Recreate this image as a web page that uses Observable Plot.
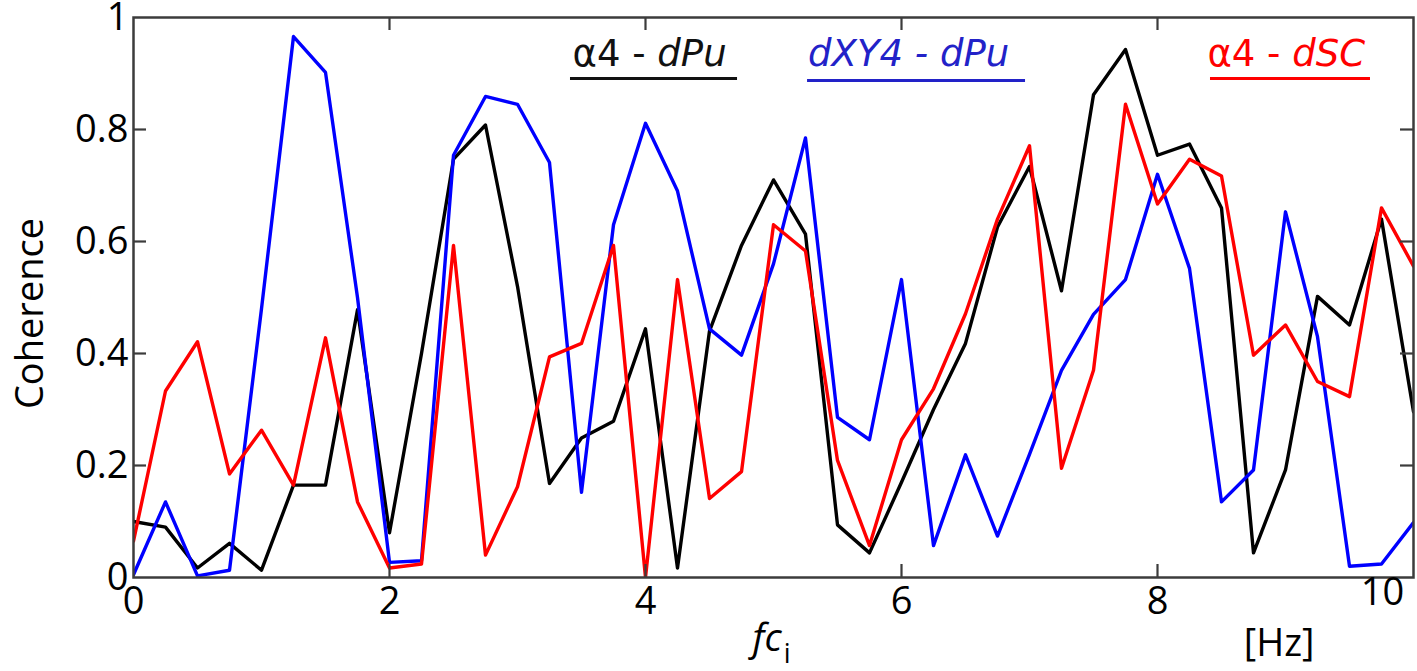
<!DOCTYPE html>
<html>
<head>
<meta charset="utf-8">
<script src="https://cdn.jsdelivr.net/npm/d3@7"></script>
<script src="https://cdn.jsdelivr.net/npm/@observablehq/plot@0.6"></script>
<style>
  html, body { margin: 0; padding: 0; background: #ffffff; }
  #chart svg { display: block; }
</style>
</head>
<body>
<div id="chart"></div>
<script>
// frequency grid [Hz]
const freq = [0, 0.25, 0.5, 0.75, 1, 1.25, 1.5, 1.75, 2, 2.25, 2.5, 2.75, 3, 3.25, 3.5, 3.75,
  4, 4.25, 4.5, 4.75, 5, 5.25, 5.5, 5.75, 6, 6.25, 6.5, 6.75, 7, 7.25, 7.5, 7.75,
  8, 8.25, 8.5, 8.75, 9, 9.25, 9.5, 9.75, 10];

// coherence: alpha4 - dPu (black)
const alpha4_dPu = [0.10, 0.09, 0.017, 0.061, 0.013, 0.165, 0.165, 0.478, 0.08, 0.40, 0.747,
  0.808, 0.52, 0.168, 0.249, 0.279, 0.444, 0.017, 0.44, 0.593, 0.71, 0.613, 0.094, 0.044,
  0.17, 0.30, 0.418, 0.626, 0.734, 0.512, 0.862, 0.943, 0.754, 0.774, 0.66, 0.044, 0.192,
  0.502, 0.451, 0.64, 0.296];

// coherence: dXY4 - dPu (blue)
const dXY4_dPu = [0.005, 0.135, 0.003, 0.013, 0.48, 0.966, 0.902, 0.50, 0.027, 0.03, 0.754,
  0.859, 0.845, 0.741, 0.152, 0.63, 0.811, 0.69, 0.444, 0.397, 0.56, 0.785, 0.286, 0.246,
  0.532, 0.057, 0.219, 0.074, 0.22, 0.37, 0.47, 0.532, 0.72, 0.552, 0.135, 0.192, 0.653,
  0.43, 0.02, 0.024, 0.098];

// coherence: alpha4 - dSC (red)
const alpha4_dSC = [0.065, 0.333, 0.421, 0.185, 0.263, 0.165, 0.428, 0.135, 0.017, 0.024, 0.593,
  0.04, 0.162, 0.394, 0.418, 0.593, 0.0, 0.532, 0.141, 0.189, 0.63, 0.583, 0.209, 0.057,
  0.246, 0.337, 0.471, 0.64, 0.771, 0.195, 0.37, 0.845, 0.667, 0.747, 0.717, 0.397, 0.451,
  0.35, 0.323, 0.66, 0.556];

const seriesNames = ["α4 - dPu", "dXY4 - dPu", "α4 - dSC"];
const seriesColors = ["#000000", "#0000ff", "#ff0000"];
const legendTextColors = ["#111111", "#2222c8", "#ff0000"];
const legendUpright = ["α4 - ", "", "α4 - "];
const legendItalic = ["dPu", "dXY4 - dPu", "dSC"];

const xTickValues = [0, 2, 4, 6, 8];
const xEdgeLabel = ["10"];
const xInnerTicks = [2, 4, 6, 8];
const yTickValues = [0, 0.2, 0.4, 0.6, 0.8, 1];
const yTickLabels = ["0", "0.2", "0.4", "0.6", "0.8", "1"];
const yInnerTicks = [0.2, 0.4, 0.6, 0.8];

const rows = [];
[alpha4_dPu, dXY4_dPu, alpha4_dSC].forEach((vals, i) => {
  vals.forEach((v, j) => rows.push({series: seriesNames[i], f: freq[j], c: v}));
});

// legend anchors (data coordinates)
const legend = seriesNames.map((name, i) => ({
  label: legendUpright[i] + legendItalic[i],
  color: legendTextColors[i],
  x: [3.43, 5.27, 8.39][i],
  x2: [4.719, 6.969, 9.664][i],
  x1: [3.414, 5.266, 8.414][i],
  y: 0.914,
  yu: [0.891, 0.8875, 0.891][i]
}));

const FONT = "Open Sans";
const LEGEND_FONT = "DejaVu Sans";
const frameColor = "#3c3c3c";
const W = 1417, H = 671, ML = 133, MR = 4, MT = 17, MB = 94;
const innerW = W - ML - MR, innerH = H - MT - MB, TICK = 13;
const xMax = 10, yMax = 1;

const plot = Plot.plot({
  width: W,
  height: H,
  marginLeft: ML,
  marginRight: MR,
  marginTop: MT,
  marginBottom: MB,
  style: {fontFamily: FONT, fontSize: "38px", background: "#ffffff", color: "#000"},
  x: {domain: [0, xMax]},
  y: {domain: [0, yMax]},
  color: {domain: seriesNames, range: seriesColors},
  marks: [
    Plot.line(rows, {x: "f", y: "c", z: "series", stroke: "series", strokeWidth: 3.4, strokeLinejoin: "round", clip: true}),
    Plot.frame({stroke: frameColor, strokeWidth: 2.5}),
    // inward ticks on all four sides
    Plot.tickX(xInnerTicks, {x: d => d, insetTop: innerH - TICK, stroke: frameColor, strokeWidth: 2.2}),
    Plot.tickX(xInnerTicks, {x: d => d, insetBottom: innerH - TICK, stroke: frameColor, strokeWidth: 2.2}),
    Plot.tickY(yInnerTicks, {y: d => d, insetRight: innerW - TICK, stroke: frameColor, strokeWidth: 2.2}),
    Plot.tickY(yInnerTicks, {y: d => d, insetLeft: innerW - TICK, stroke: frameColor, strokeWidth: 2.2}),
    // tick labels
    Plot.axisX({ticks: xTickValues, tickSize: 0, tickPadding: 10, label: null, fontSize: 38, fill: "#000"}),
    Plot.text(xEdgeLabel, {x: d => +d, text: d => d, frameAnchor: "bottom", lineAnchor: "top", dy: 1, dx: -31, fontSize: 38, fill: "#000"}),
    Plot.axisY({ticks: yTickValues, tickSize: 0, tickPadding: 5, label: null, fontSize: 38, fill: "#000",
      tickFormat: d => yTickLabels[yTickValues.indexOf(d)]}),
    // axis titles
    Plot.text(["Coherence"], {frameAnchor: "left", rotate: -90, dx: -103, dy: 16, fontSize: 38, fill: "#000", textAnchor: "middle", lineAnchor: "middle"}),
    Plot.text(["fc"], {x: 4.95, frameAnchor: "bottom", lineAnchor: "bottom", dy: 73, fontSize: 38, fontStyle: "italic", fill: "#000", textAnchor: "middle"}),
    Plot.text(["i"], {x: 5.08, frameAnchor: "bottom", lineAnchor: "bottom", dy: 85, fontSize: 27, fill: "#000", textAnchor: "start"}),
    Plot.text(["[Hz]"], {x: 8.95, frameAnchor: "bottom", lineAnchor: "bottom", dy: 78, fontSize: 38, fill: "#000", textAnchor: "middle"}),
    // legend
    Plot.text(legend, {x: "x", y: "y", text: "label", fill: "color", textAnchor: "start", lineAnchor: "bottom", fontSize: 37, fontFamily: LEGEND_FONT}),
    Plot.ruleY(legend, {y: "yu", x1: "x1", x2: "x2", stroke: "color", strokeWidth: 3})
  ]
});

// mixed upright/italic legend labels
d3.select(plot).selectAll("text").each(function() {
  const t = this.textContent;
  const i = legend.findIndex(l => l.label === t);
  if (i < 0) return;
  const sel = d3.select(this);
  sel.text(null);
  if (legendUpright[i]) sel.append("tspan").style("white-space", "pre").text(legendUpright[i]);
  sel.append("tspan").attr("font-style", "italic").text(legendItalic[i]);
});

document.getElementById("chart").appendChild(plot);
</script>
</body>
</html>
